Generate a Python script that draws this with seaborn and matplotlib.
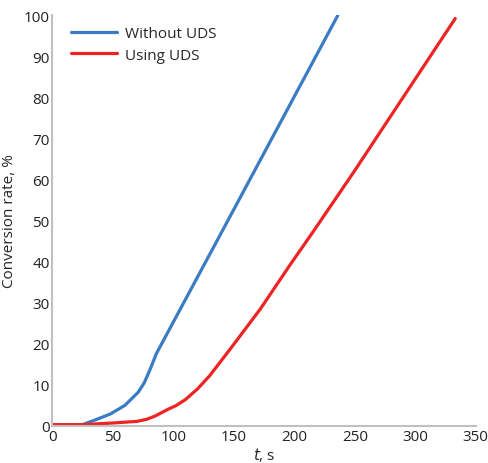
import numpy as np
import pandas as pd
import matplotlib
matplotlib.use("Agg")
import matplotlib.pyplot as plt
import seaborn as sns

# Values
t_without = [0, 10, 24, 35, 48, 60, 71, 76, 81, 86, 150, 236]
rate_without = [0.2, 0.2, 0.2, 1.4, 2.9, 5.0, 8.2, 10.5, 13.9, 17.6, 52.7, 100.0]

t_using = [0, 10, 25, 50, 70, 78, 85, 96, 102, 110, 120, 130, 147, 172, 196, 217, 250, 300, 333]
rate_using = [0.3, 0.3, 0.3, 0.7, 1.1, 1.6, 2.4, 4.1, 4.9, 6.4, 9.0, 12.2, 18.7, 28.5, 39.0, 47.9, 62.2, 84.5, 99.2]

df = pd.concat([
    pd.DataFrame({"t": t_without, "rate": rate_without, "series": "Without UDS"}),
    pd.DataFrame({"t": t_using, "rate": rate_using, "series": "Using UDS"}),
])

sns.set_theme(style="white")
plt.rcParams["font.family"] = ["Open Sans", "DejaVu Sans"]

fig, ax = plt.subplots(figsize=(4.89, 4.64), dpi=100)
sns.lineplot(data=df, x="t", y="rate", hue="series", ax=ax,
             palette={"Without UDS": "#3a7cc3", "Using UDS": "#ee2424"},
             linewidth=2.3, sort=False, estimator=None)

ax.set_xlim(0, 350)
ax.set_ylim(0, 100)
ax.set_xticks(np.arange(0, 351, 50))
ax.set_yticks(np.arange(0, 101, 10))
ax.set_xlabel("$t$, s", fontsize=11, labelpad=1)
ax.set_ylabel("Conversion rate, %", fontsize=11, labelpad=5)
ax.tick_params(axis="both", labelsize=11, length=3, width=1, color="#c0c0c0",
               direction="in", pad=2, labelcolor="#222222")

for side in ["top", "right"]:
    ax.spines[side].set_visible(False)
for side in ["left", "bottom"]:
    ax.spines[side].set_color("#c0c0c0")
    ax.spines[side].set_linewidth(1.5)

ax.legend(loc="upper left", frameon=False, fontsize=11, handlelength=3.0,
          bbox_to_anchor=(0.02, 1.0), borderaxespad=0.3, labelspacing=0.45,
          handletextpad=0.5)

fig.subplots_adjust(left=0.107, right=0.973, bottom=0.08, top=0.965)
fig.savefig("out.png", dpi=100)
